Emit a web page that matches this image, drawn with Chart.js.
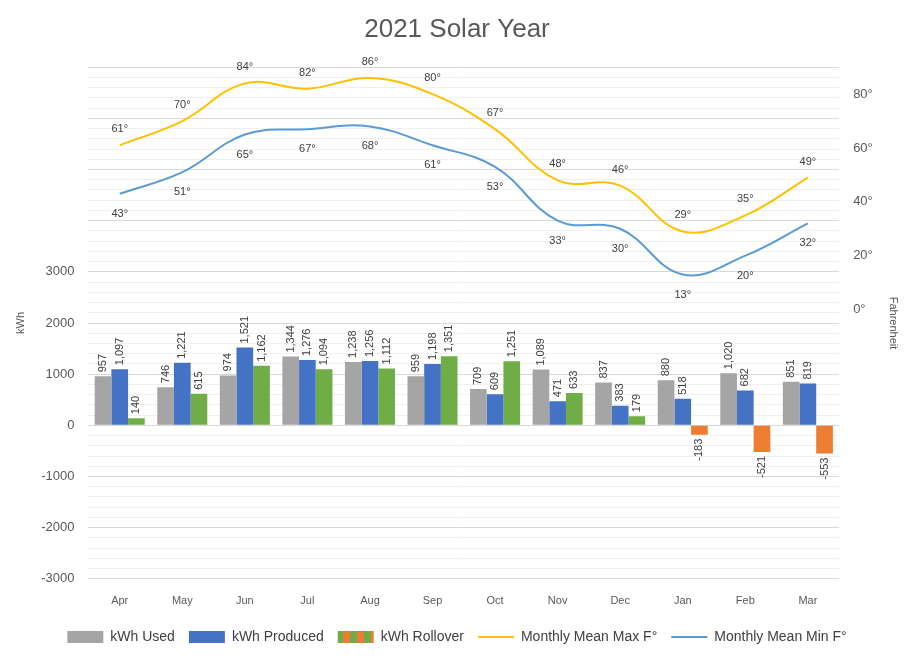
<!DOCTYPE html>
<html><head><meta charset="utf-8">
<script src="https://cdn.jsdelivr.net/npm/chart.js@4"></script>
<style>body{margin:0;background:#fff}#w{width:910px;height:662px}</style>
</head><body><div id="w"><canvas id="c"></canvas></div>
<script>
const months=["Apr","May","Jun","Jul","Aug","Sep","Oct","Nov","Dec","Jan","Feb","Mar"];
const used=[957,746,974,1344,1238,959,709,1089,837,880,1020,851];
const produced=[1097,1221,1521,1276,1256,1198,609,471,383,518,682,819];
const rollover=[140,615,1162,1094,1112,1351,1251,633,179,-183,-521,-553];
const maxF=[61,70,84,82,86,80,67,48,46,29,35,49];
const minF=[43,51,65,67,68,61,53,33,30,13,20,32];
const fmt=v=>v.toLocaleString('en-US');
const sw=document.createElement('canvas');sw.width=14;sw.height=14;
const sx=sw.getContext('2d');sx.fillStyle='#ED7D31';sx.fillRect(0,0,14,14);sx.fillStyle='#70AD47';sx.fillRect(0,0,7,14);
const labelsPlugin={id:'lbl',afterDatasetsDraw(ch){
 const ctx=ch.ctx;ctx.save();ctx.font='11px "Liberation Sans",Arial';ctx.fillStyle='#404040';
 ch.data.datasets.forEach((ds,i)=>{const m=ch.getDatasetMeta(i);
  m.data.forEach((el,j)=>{const v=ds.data[j];
   if(ds.type==='line'){ctx.textAlign='center';ctx.textBaseline='middle';
     const dy=i===3?-16:20;ctx.fillText(v+'°',el.x,el.y+dy);}
   else{ctx.save();ctx.translate(el.x,v>=0?el.y-4:el.y+4);ctx.rotate(-Math.PI/2);
     ctx.textAlign=v>=0?'left':'right';ctx.textBaseline='middle';ctx.fillText(fmt(v),0,0);ctx.restore();}
  });});ctx.restore();}};
new Chart(document.getElementById('c'),{
 data:{labels:months,datasets:[
  {type:'bar',label:'kWh Used',data:used,backgroundColor:'#A5A5A5',yAxisID:'y',order:2},
  {type:'bar',label:'kWh Produced',data:produced,backgroundColor:'#4472C4',yAxisID:'y',order:2},
  {type:'bar',label:'kWh Rollover',data:rollover,backgroundColor:rollover.map(v=>v>=0?'#70AD47':'#ED7D31'),yAxisID:'y',order:2},
  {type:'line',label:'Monthly Mean Max F°',data:maxF,borderColor:'#FFC000',borderWidth:2,pointRadius:0,tension:0.4,yAxisID:'y1',order:1},
  {type:'line',label:'Monthly Mean Min F°',data:minF,borderColor:'#5B9BD5',borderWidth:2,pointRadius:0,tension:0.4,yAxisID:'y1',order:1}
 ]},
 options:{responsive:true,maintainAspectRatio:false,animation:false,
  layout:{padding:{left:14,right:10,top:8,bottom:8}},
  datasets:{bar:{categoryPercentage:0.8,barPercentage:1}},
  plugins:{title:{display:true,text:'2021 Solar Year',font:{size:26,family:'"Liberation Sans",Arial',weight:'normal'},color:'#595959',padding:{top:6,bottom:22}},
   tooltip:{enabled:false},
   legend:{position:'bottom',labels:{font:{size:14,family:'"Liberation Sans",Arial'},color:'#404040',padding:14,
    generateLabels(ch){return ch.data.datasets.map((d,i)=>{const line=d.type==='line';
     return {text:d.label,datasetIndex:i,fillStyle:line?d.borderColor:(i===2?ch.ctx.createPattern(sw,'repeat'):d.backgroundColor),strokeStyle:line?d.borderColor:'transparent',lineWidth:line?2:0,pointStyle:line?'line':'rect',fontColor:'#404040'};});},
    usePointStyle:true,pointStyleWidth:36,boxHeight:12}}},
  scales:{
   x:{grid:{display:false},border:{display:false},ticks:{color:'#595959',font:{size:11,family:'"Liberation Sans",Arial'},padding:8}},
   y:{position:'left',min:-3000,max:7000,title:{display:true,text:'kWh',color:'#595959',font:{size:11},padding:0},
    ticks:{stepSize:200,autoSkip:false,color:'#595959',font:{size:13,family:'"Liberation Sans",Arial'},padding:14,
     callback:v=>(v%1000===0&&v<=3000)?v:''},
    grid:{color:c=>c.tick.value%1000===0?'#D9D9D9':'#F0F0F0',drawTicks:false},border:{display:false}},
   y1:{position:'right',min:-100,max:90,title:{display:true,text:'Fahrenheit',color:'#595959',font:{size:11},padding:0},
    ticks:{stepSize:10,autoSkip:false,color:'#595959',font:{size:13,family:'"Liberation Sans",Arial'},padding:14,
     callback:v=>(v>=0&&v%20===0&&v<=80)?v+'°':''},
    grid:{display:false,drawTicks:false},border:{display:false}}
  }},
 plugins:[labelsPlugin]});
</script></body></html>
